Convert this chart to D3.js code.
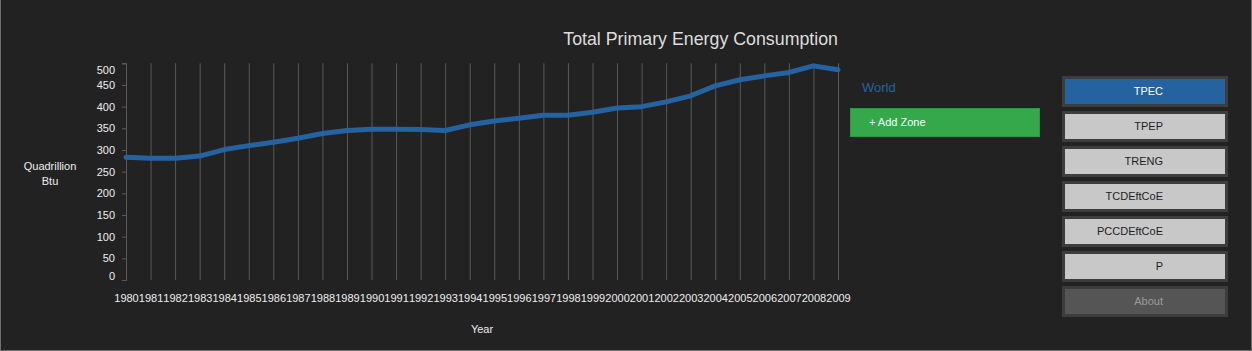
<!DOCTYPE html>
<html>
<head>
<meta charset="utf-8">
<script src="https://cdn.jsdelivr.net/npm/d3@7/dist/d3.min.js"></script>
<style>
  html, body { margin: 0; padding: 0; background: #222; }
  svg { display: block; font-family: "Liberation Sans", Arial, sans-serif; }
</style>
</head>
<body>
<svg id="chart" width="1252" height="351"></svg>
<script>
// data
const years = [1980, 1981, 1982, 1983, 1984, 1985, 1986, 1987, 1988, 1989,
  1990, 1991, 1992, 1993, 1994, 1995, 1996, 1997, 1998, 1999,
  2000, 2001, 2002, 2003, 2004, 2005, 2006, 2007, 2008, 2009];
const worldTpec = [283, 281, 281, 286, 301, 310, 318, 327, 338, 345,
  348, 348, 347, 345, 358, 367, 373, 380, 380, 387,
  397, 400, 411, 425, 448, 462, 471, 479, 494, 485];
const yTicks = [0, 50, 100, 150, 200, 250, 300, 350, 400, 450, 500];
const zones = ['World'];
const buttons = ['TPEC', 'TPEP', 'TRENG', 'TCDEftCoE', 'PCCDEftCoE', 'P', 'About'];
const activeButton = 'TPEC';

const svg = d3.select('#chart');

/**
 * layout / palette config
 */
const cs = {
  palette: {
    bg: '#222222',
    frame: '#6e6e6e',
    grid: '#5a5a5a',
    text: '#eeeeee',
    line: '#2563a0',
    green: '#34a84a',
  },
  x: { left: 126, right: 838, labelY: 298 },
  y: { top: 63.3, bottom: 280, labelMin: 70, labelMax: 276 },
};

// frame (left, right, bottom edges only)
svg.append('rect').attr('width', 1252).attr('height', 351).attr('fill', cs.palette.bg);
svg.append('path')
  .attr('d', 'M0.5,0V350.5H1251.5V0')
  .attr('fill', 'none')
  .attr('stroke', cs.palette.frame);

cs.x.scale = d3.scalePoint().domain(years).range([cs.x.left, cs.x.right]);
cs.y.scale = d3.scaleLinear().domain([0, 500]).range([cs.y.bottom, cs.y.top]);

// x grid + labels
const xAxis = svg.append('g')
  .attr('class', 'x axis')
  .attr('transform', `translate(0,${cs.y.bottom})`)
  .call(d3.axisBottom(cs.x.scale).tickSizeInner(-(cs.y.bottom - cs.y.top)).tickSizeOuter(0).tickPadding(0));
xAxis.select('.domain').remove();
xAxis.selectAll('.tick line').attr('stroke', cs.palette.grid);
xAxis.selectAll('.tick text')
  .attr('y', cs.x.labelY - cs.y.bottom)
  .attr('dy', '0.35em')
  .attr('fill', cs.palette.text)
  .attr('font-size', 11)
  .attr('font-family', null);

// y axis
const yAxis = svg.append('g')
  .attr('class', 'y axis')
  .attr('transform', `translate(${cs.x.left},0)`)
  .call(d3.axisLeft(cs.y.scale).tickValues(yTicks).tickSize(4).tickPadding(7));
yAxis.select('.domain').attr('stroke', cs.palette.grid);
yAxis.selectAll('.tick line').attr('stroke', cs.palette.grid);
// labels near the ends are kept inside the axis
yAxis.selectAll('.tick text')
  .attr('fill', cs.palette.text)
  .attr('font-size', 11)
  .attr('font-family', null)
  .attr('y', d => {
    const p = cs.y.scale(d);
    return Math.min(Math.max(p, cs.y.labelMin), cs.y.labelMax) - p;
  });

// axis titles
const yTitle = svg.append('text')
  .attr('x', 50)
  .attr('y', 166)
  .attr('text-anchor', 'middle')
  .attr('fill', cs.palette.text)
  .attr('font-size', 11);
yTitle.append('tspan').attr('x', 50).attr('dy', '0.35em').text('Quadrillion');
yTitle.append('tspan').attr('x', 50).attr('dy', 15).text('Btu');

svg.append('text')
  .attr('x', 482)
  .attr('y', 329)
  .attr('dy', '0.35em')
  .attr('text-anchor', 'middle')
  .attr('fill', cs.palette.text)
  .attr('font-size', 11)
  .text('Year');

svg.append('text')
  .attr('x', cs.x.right)
  .attr('y', 39)
  .attr('dy', '0.35em')
  .attr('text-anchor', 'end')
  .attr('fill', '#dddddd')
  .attr('font-size', 17.8)
  .text('Total Primary Energy Consumption');

// the series
const line = d3.line()
  .x((d, i) => cs.x.scale(years[i]))
  .y(d => cs.y.scale(d));

svg.append('path')
  .datum(worldTpec)
  .attr('d', line)
  .attr('fill', 'none')
  .attr('stroke', cs.palette.line)
  .attr('stroke-width', 5)
  .attr('stroke-linejoin', 'round')
  .attr('stroke-linecap', 'round');

// zone legend
svg.selectAll('text.zone')
  .data(zones)
  .enter()
  .append('text')
  .attr('class', 'zone')
  .attr('x', 862)
  .attr('y', (d, i) => 87 + i * 20)
  .attr('dy', '0.35em')
  .attr('fill', cs.palette.line)
  .attr('font-size', 13)
  .text(d => d);

svg.append('rect')
  .attr('x', 850.5).attr('y', 108.5)
  .attr('width', 189).attr('height', 28)
  .attr('fill', cs.palette.green)
  .attr('stroke', '#2e9541');
svg.append('text')
  .attr('x', 869)
  .attr('y', 122.5)
  .attr('dy', '0.35em')
  .attr('fill', '#ffffff')
  .attr('font-size', 11)
  .text('+ Add Zone');

// side buttons
const btnFill = d => d === activeButton ? cs.palette.line : (d === 'About' ? '#555555' : '#c8c8c8');
const btnText = d => d === activeButton ? '#ffffff' : (d === 'About' ? '#9a9a9a' : '#1e1e1e');

const btn = svg.selectAll('g.btn')
  .data(buttons)
  .enter()
  .append('g')
  .attr('class', 'btn')
  .attr('transform', (d, i) => `translate(1062,${76 + i * 35})`);
btn.append('rect')
  .attr('width', 166).attr('height', 31)
  .attr('fill', '#3d3d3d');
btn.append('rect')
  .attr('x', 3).attr('y', 3)
  .attr('width', 160).attr('height', 25)
  .attr('fill', btnFill);
btn.append('text')
  .attr('x', 101)
  .attr('y', 15.5)
  .attr('dy', '0.35em')
  .attr('text-anchor', 'end')
  .attr('fill', btnText)
  .attr('font-size', 11)
  .text(d => d);
</script>
</body>
</html>
